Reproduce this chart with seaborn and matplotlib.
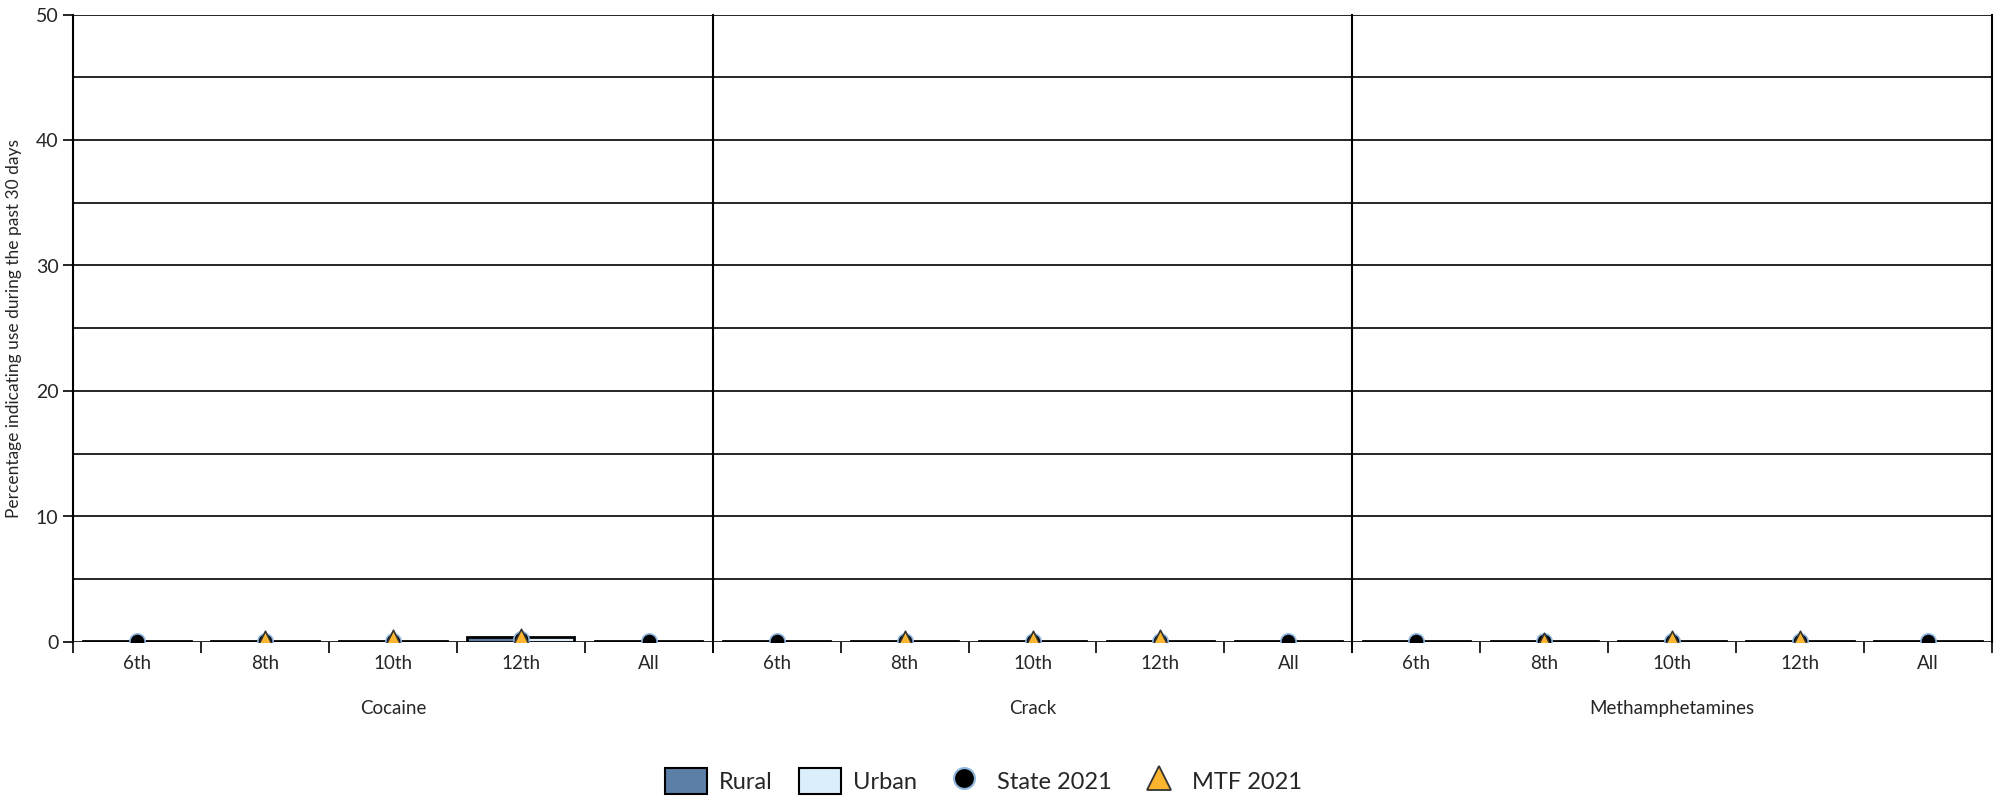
import numpy as np
import pandas as pd
import matplotlib
matplotlib.use("Agg")
import matplotlib.pyplot as plt
import seaborn as sns
from matplotlib.patches import Patch
from matplotlib.lines import Line2D

# %%
# data
drugs = ["Cocaine", "Crack", "Methamphetamines"]
grades = ["6th", "8th", "10th", "12th", "All"]

rural = {
    "Cocaine": [0.1, 0.1, 0.1, 0.4, 0.1],
    "Crack": [0.1, 0.1, 0.1, 0.1, 0.1],
    "Methamphetamines": [0.1, 0.1, 0.1, 0.1, 0.1],
}
urban = {
    "Cocaine": [0.1, 0.1, 0.1, 0.4, 0.1],
    "Crack": [0.1, 0.1, 0.1, 0.1, 0.1],
    "Methamphetamines": [0.1, 0.1, 0.1, 0.1, 0.1],
}
state_2021 = {
    "Cocaine": [0.1, 0.1, 0.1, 0.2, 0.1],
    "Crack": [0.1, 0.1, 0.1, 0.1, 0.1],
    "Methamphetamines": [0.1, 0.1, 0.1, 0.1, 0.1],
}
mtf_grades = ["8th", "10th", "12th"]
mtf_2021 = {
    "Cocaine": [0.2, 0.3, 0.4],
    "Crack": [0.2, 0.2, 0.3],
    "Methamphetamines": [0.1, 0.2, 0.2],
}

rural_color = "#5b7fa6"
urban_color = "#dbeefc"
mtf_color = "#fbb52f"
state_edge = "#8fb6de"

# %%
sns.set_style("white")
plt.rcParams["font.family"] = ["Lato", "DejaVu Sans"]

fig, axes = plt.subplots(1, 3, figsize=(19.95, 8.045), dpi=100, sharey=True)
fig.subplots_adjust(left=73 / 1995, right=1992 / 1995, top=1 - 15 / 804,
                    bottom=1 - 642 / 804, wspace=0)

for i, (ax, drug) in enumerate(zip(axes, drugs)):
    bars = pd.DataFrame({
        "grade": grades * 2,
        "value": rural[drug] + urban[drug],
        "area": ["Rural"] * len(grades) + ["Urban"] * len(grades),
    })
    sns.barplot(data=bars, x="grade", y="value", hue="area", order=grades,
                hue_order=["Rural", "Urban"],
                palette=[rural_color, urban_color], width=0.84,
                edgecolor="black", linewidth=2.0, legend=False, ax=ax, zorder=3)

    pos = {g: k for k, g in enumerate(grades)}
    st = pd.DataFrame({"x": [pos[g] for g in grades], "y": state_2021[drug]})
    sns.scatterplot(data=st, x="x", y="y", marker="o", s=120, color="black",
                    edgecolor=state_edge, linewidth=1.2, ax=ax, zorder=5)
    mt = pd.DataFrame({"x": [pos[g] for g in mtf_grades], "y": mtf_2021[drug]})
    sns.scatterplot(data=mt, x="x", y="y", marker="^", s=140, color=mtf_color,
                    edgecolor="#333333", linewidth=1.2, ax=ax, zorder=6)

    ax.set_xlim(-0.5, len(grades) - 0.5)
    ax.set_ylim(0, 50)
    ax.set_xticks(np.arange(-0.5, len(grades)), labels=[""] * (len(grades) + 1))
    ax.set_xticks(range(len(grades)), labels=grades, minor=True)
    ax.tick_params(axis="x", which="major", direction="out", length=8,
                   width=1.2, color="black", bottom=True)
    ax.tick_params(axis="x", which="minor", length=0, pad=9, labelsize=13.5)
    ax.set_xlabel(drug, fontsize=13.5, labelpad=20)

    ax.set_yticks(range(0, 51, 10))
    ax.set_yticks(range(5, 50, 10), minor=True)
    ax.grid(axis="y", which="both", color="black", linewidth=1.2, zorder=0)
    ax.set_axisbelow(True)
    ax.tick_params(axis="y", which="major", direction="out", length=7,
                   width=1.2, color="black", left=(i == 0), labelsize=14)
    ax.tick_params(axis="y", which="minor", length=0)

    for side in ["top", "bottom"]:
        ax.spines[side].set_visible(False)
    ax.spines["left"].set_color("black")
    ax.spines["left"].set_linewidth(1.5)
    ax.spines["right"].set_visible(i == 2)
    ax.spines["right"].set_color("black")
    ax.spines["right"].set_linewidth(1.5)
    ax.set_ylabel("")

axes[0].set_ylabel("Percentage indicating use during the past 30 days",
                   fontsize=12.5, labelpad=10)

handles = [
    Patch(facecolor=rural_color, edgecolor="black", linewidth=1.5, label="Rural"),
    Patch(facecolor=urban_color, edgecolor="black", linewidth=1.5, label="Urban"),
    Line2D([], [], marker="o", linestyle="", markersize=15, markerfacecolor="black",
           markeredgecolor=state_edge, markeredgewidth=1.5, label="State 2021"),
    Line2D([], [], marker="^", linestyle="", markersize=17, markerfacecolor=mtf_color,
           markeredgecolor="#333333", markeredgewidth=1.3, label="MTF 2021"),
]
fig.legend(handles=handles, loc="lower center", bbox_to_anchor=(0.493, -0.014),
           ncol=4, frameon=False, fontsize=17, handlelength=1.8, handleheight=1.35,
           columnspacing=1.1, handletextpad=0.5)

fig.savefig("out.png", dpi=100)
